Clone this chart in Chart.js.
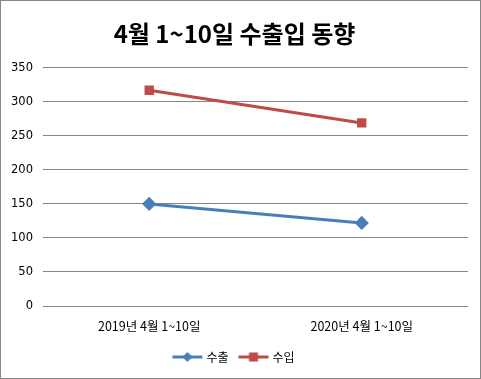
<!DOCTYPE html>
<html><head><meta charset="utf-8">
<script src="https://cdn.jsdelivr.net/npm/chart.js@4/dist/chart.umd.min.js"></script>
<style>
html,body{margin:0;padding:0;background:#fff;}
#wrap{width:481px;height:379px;box-sizing:border-box;border:1px solid #868686;position:relative;}
canvas{display:block;}
</style></head><body>
<div id="wrap"><canvas id="c" width="479" height="377"></canvas></div>
<script>
const categories = ["2019년 4월 1~10일", "2020년 4월 1~10일"];
const exportsVals = [150, 122];
const importsVals = [317, 269];
const seriesNames = ["수출", "수입"];
const yTicks = [0, 50, 100, 150, 200, 250, 300, 350];

const BLUE = "#4A7EBB", RED = "#BE4B48";
const FONT = "'Noto Sans CJK KR', 'Noto Sans', sans-serif";

function legendIcon(color, style) {
  const cv = document.createElement('canvas');
  cv.width = 32; cv.height = 12;
  const g = cv.getContext('2d');
  g.strokeStyle = color; g.lineWidth = 3;
  g.beginPath(); g.moveTo(1, 6); g.lineTo(31, 6); g.stroke();
  g.fillStyle = color;
  if (style === 'rect') { g.fillRect(11.5, 1.5, 9, 9); }
  else { g.beginPath(); g.moveTo(16, 1); g.lineTo(21, 6); g.lineTo(16, 11); g.lineTo(11, 6); g.closePath(); g.fill(); }
  return cv;
}

new Chart(document.getElementById('c'), {
  type: 'line',
  data: {
    labels: categories,
    datasets: [
      { label: seriesNames[0], data: exportsVals, borderColor: BLUE, backgroundColor: BLUE,
        borderWidth: 3, pointStyle: 'rectRot', pointRadius: 5, pointHoverRadius: 5, tension: 0 },
      { label: seriesNames[1], data: importsVals, borderColor: RED, backgroundColor: RED,
        borderWidth: 3, pointStyle: 'rect', pointRadius: 4.5, pointHoverRadius: 4.5, tension: 0 }
    ]
  },
  options: {
    responsive: false, animation: false,
    layout: { padding: { left: 0, right: 12, top: 0, bottom: 5 } },
    plugins: {
      tooltip: { enabled: false },
      title: { display: true, text: "4월 1~10일 수출입 동향", color: '#000',
        font: { family: FONT, size: 24, weight: 'bold' }, padding: { top: 18, bottom: 20 } },
      legend: { position: 'bottom',
        labels: { usePointStyle: true, pointStyleWidth: 26, color: '#000', font: { family: FONT, size: 12 }, padding: 12,
          generateLabels: (chart) => chart.data.datasets.map((d, i) => ({
            text: d.label, pointStyle: legendIcon(d.borderColor, i === 0 ? 'diamond' : 'rect'),
            fillStyle: d.borderColor, strokeStyle: d.borderColor, lineWidth: 0, datasetIndex: i, hidden: false
          })) } }
    },
    scales: {
      x: { offset: true, grid: { display: false }, border: { display: false },
        ticks: { color: '#000', font: { family: FONT, size: 12.5 }, padding: 5, maxRotation: 0 } },
      y: { min: 0, max: 350, border: { display: false },
        afterBuildTicks: (ax) => { ax.ticks = yTicks.map(v => ({ value: v })); },
        grid: { color: '#868686', lineWidth: 1, drawTicks: false },
        ticks: { color: '#000', font: { family: "'DejaVu Sans', sans-serif", size: 11.5 }, padding: 10 } }
    }
  }
});
</script>
</body></html>
